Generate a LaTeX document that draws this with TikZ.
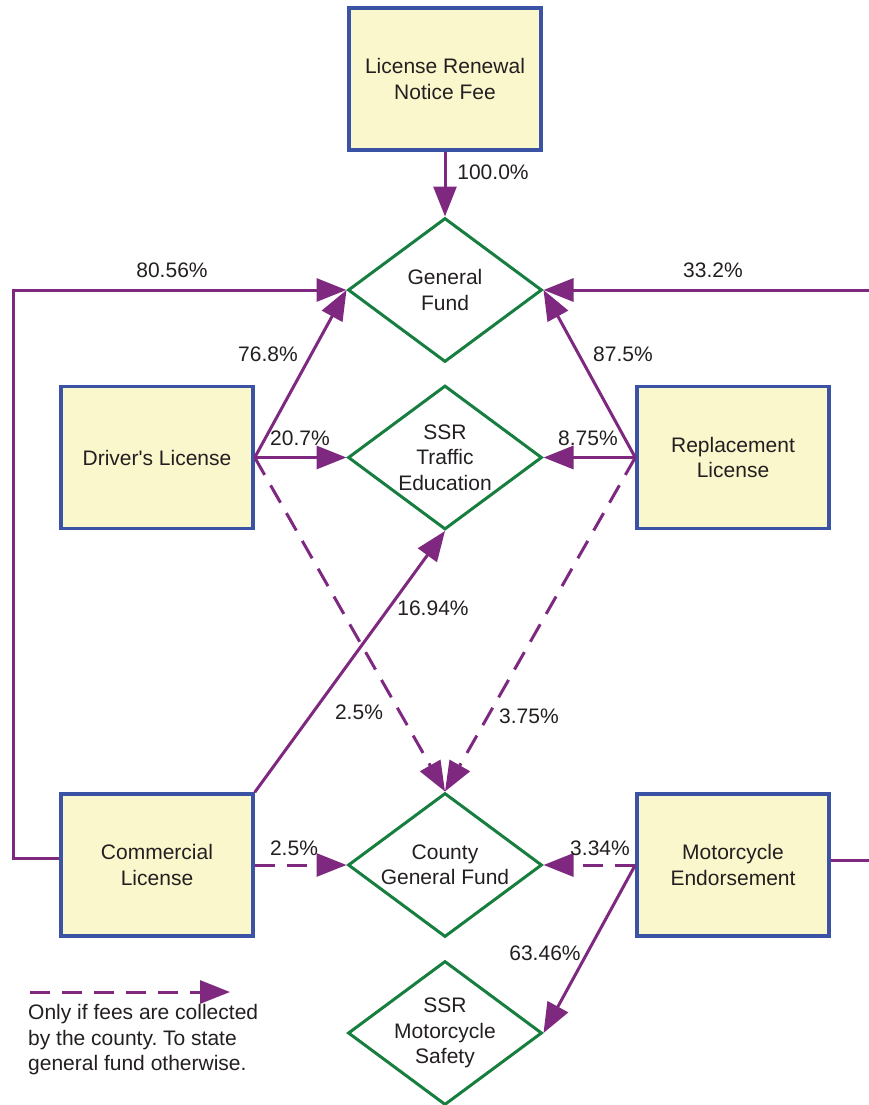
\documentclass[tikz,border=0pt]{standalone}
\usepackage{fontspec}
\setmainfont{Liberation Sans}
\usetikzlibrary{arrows.meta,shapes.geometric}
\frenchspacing
\definecolor{flow}{RGB}{126,40,128}
\definecolor{fundgreen}{RGB}{22,126,62}
\definecolor{boxblue}{RGB}{58,83,164}
\definecolor{boxfill}{RGB}{250,247,205}
\definecolor{ink}{RGB}{35,31,32}
\tikzset{
  txt/.style={font=\fontsize{21pt}{25.5pt}\selectfont, text=ink, align=center},
  source/.style={txt, draw=boxblue, line width=3.5pt, fill=boxfill, rectangle,
    minimum width=192pt, minimum height=142pt, inner sep=0pt},
  fund/.style={txt, draw=fundgreen, line width=3pt, diamond, aspect=1.35,
    minimum width=194pt, minimum height=144pt, inner sep=-6pt},
  pct/.style={txt, inner sep=0pt},
  flowline/.style={draw=flow, line width=3pt, line join=miter},
  flowarrow/.style={flowline, -{Triangle[length=30pt, width=23pt]}},
  countyarrow/.style={flowarrow, dash pattern=on 20pt off 12pt}
}
\begin{document}
\begin{tikzpicture}[x=1pt, y=-1pt]
\useasboundingbox (0,0) rectangle (868,1105);

% fee sources
\node[source] (renewal) at (445,79) {License Renewal\\Notice Fee};
\node[source] (drivers) at (157,457.5) {Driver\textquotesingle s License};
\node[source] (replace) at (733,457.5) {Replacement\\License};
\node[source] (commercial) at (157,865) {Commercial\\License};
\node[source] (moto) at (733,865) {Motorcycle\\Endorsement};

% receiving funds
\node[fund] (general) at (445,290) {General\\Fund};
\node[fund] (traffic) at (445,457.5) {SSR\\Traffic\\Education};
\node[fund] (county) at (445,865) {County\\General Fund};
\node[fund] (safety) at (445,1033) {SSR\\Motorcycle\\Safety};

% routing corners for the outer loops
\coordinate (lcorner) at (13,858);
\coordinate (rcorner) at (885,860);

% flows
\draw[flowarrow] (renewal.south) -- (general.north);
\draw[flowarrow] ([yshift=7pt]commercial.west) -- (lcorner) |- (general.west);
\draw[flowarrow] ([yshift=5pt]moto.east) -- (rcorner) |- (general.east);
\draw[flowarrow] (drivers.east) -- (general.west);
\draw[flowarrow] (drivers.east) -- (traffic.west);
\draw[countyarrow] (drivers.east) -- (county.north);
\draw[flowarrow] (replace.west) -- (general.east);
\draw[flowarrow] (replace.west) -- (traffic.east);
\draw[countyarrow] (replace.west) -- (county.north);
\draw[flowarrow] (commercial.north east) -- (traffic.south);
\draw[countyarrow] (commercial.east) -- (county.west);
\draw[countyarrow] (moto.west) -- (county.east);
\draw[flowarrow] (moto.west) -- (safety.east);

% percentages
\node[pct] (p1) at (493,172) {100.0\%};
\node[pct] (p2) at (172,270) {80.56\%};
\node[pct] (p3) at (713,270) {33.2\%};
\node[pct] (p4) at (268,354) {76.8\%};
\node[pct] (p5) at (623,354) {87.5\%};
\node[pct] (p6) at (300,438) {20.7\%};
\node[pct] (p7) at (588,438) {8.75\%};
\node[pct] (p8) at (433,608) {16.94\%};
\node[pct] (p9) at (359,712) {2.5\%};
\node[pct] (p10) at (529,716) {3.75\%};
\node[pct] (p11) at (294,848) {2.5\%};
\node[pct] (p12) at (600,848) {3.34\%};
\node[pct] (p13) at (545,953) {63.46\%};

% legend
\coordinate (legA) at (30,992);
\coordinate (legB) at (230,992);
\draw[countyarrow] (legA) -- (legB);
\node[txt, align=left, anchor=west, inner sep=0pt] (legtext) at (28,1040)
  {Only if fees are collected\\by the county. To state\\general fund otherwise.};
\end{tikzpicture}
\end{document}
